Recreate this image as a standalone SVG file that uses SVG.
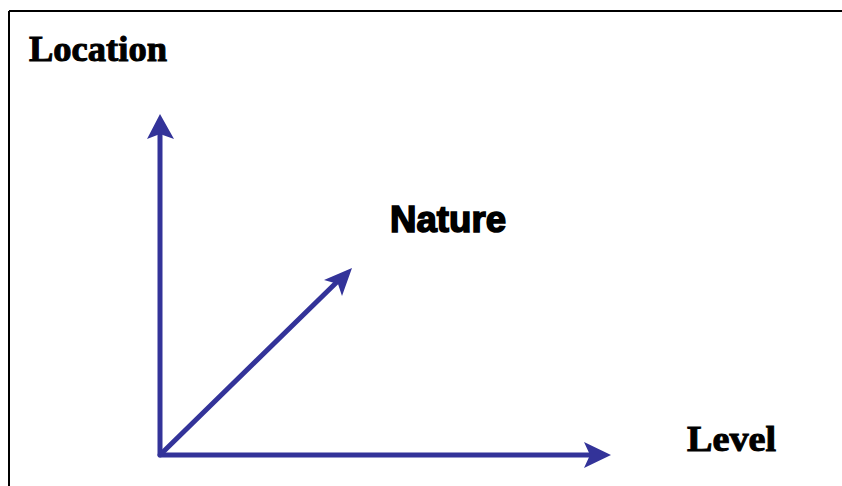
<svg xmlns="http://www.w3.org/2000/svg" width="842" height="486" viewBox="0 0 842 486">
<style>
.ax{stroke:#333399;stroke-width:5;fill:none;stroke-linecap:round}
.hd{fill:#333399}
.serif{font-family:"Liberation Serif","Times New Roman",serif;font-weight:bold;fill:#000;stroke:#000;stroke-width:1}
.sans{font-family:"Liberation Sans",Arial,sans-serif;font-weight:bold;fill:#000;stroke:#000;stroke-width:1.6}
</style>
<rect width="842" height="486" fill="#fff"/>
<g id="frame">
<line x1="9" y1="11" x2="842" y2="11" stroke="#000" stroke-width="2"/>
<line x1="9" y1="11" x2="9" y2="486" stroke="#000" stroke-width="2"/>
</g>
<g id="connectors">
<line class="ax" x1="160" y1="455" x2="160" y2="132"/>
<polygon class="hd" points="160,114 174,139 160,134 147,139"/>
<line class="ax" x1="160" y1="455" x2="592" y2="455"/>
<polygon class="hd" points="611,455 584,442 590,455 584,468"/>
<line class="ax" x1="162" y1="453" x2="340" y2="279"/>
<polygon class="hd" points="352,268 342,296 338,284 324,280"/>
</g>
<g id="location"><text class="serif" x="29" y="61" font-size="36" textLength="138" lengthAdjust="spacingAndGlyphs">Location</text></g>
<g id="nature"><text class="sans" x="390" y="232" font-size="37" textLength="116" lengthAdjust="spacingAndGlyphs">Nature</text></g>
<g id="level"><text class="serif" x="687" y="451" font-size="36" textLength="89" lengthAdjust="spacingAndGlyphs">Level</text></g>
</svg>
